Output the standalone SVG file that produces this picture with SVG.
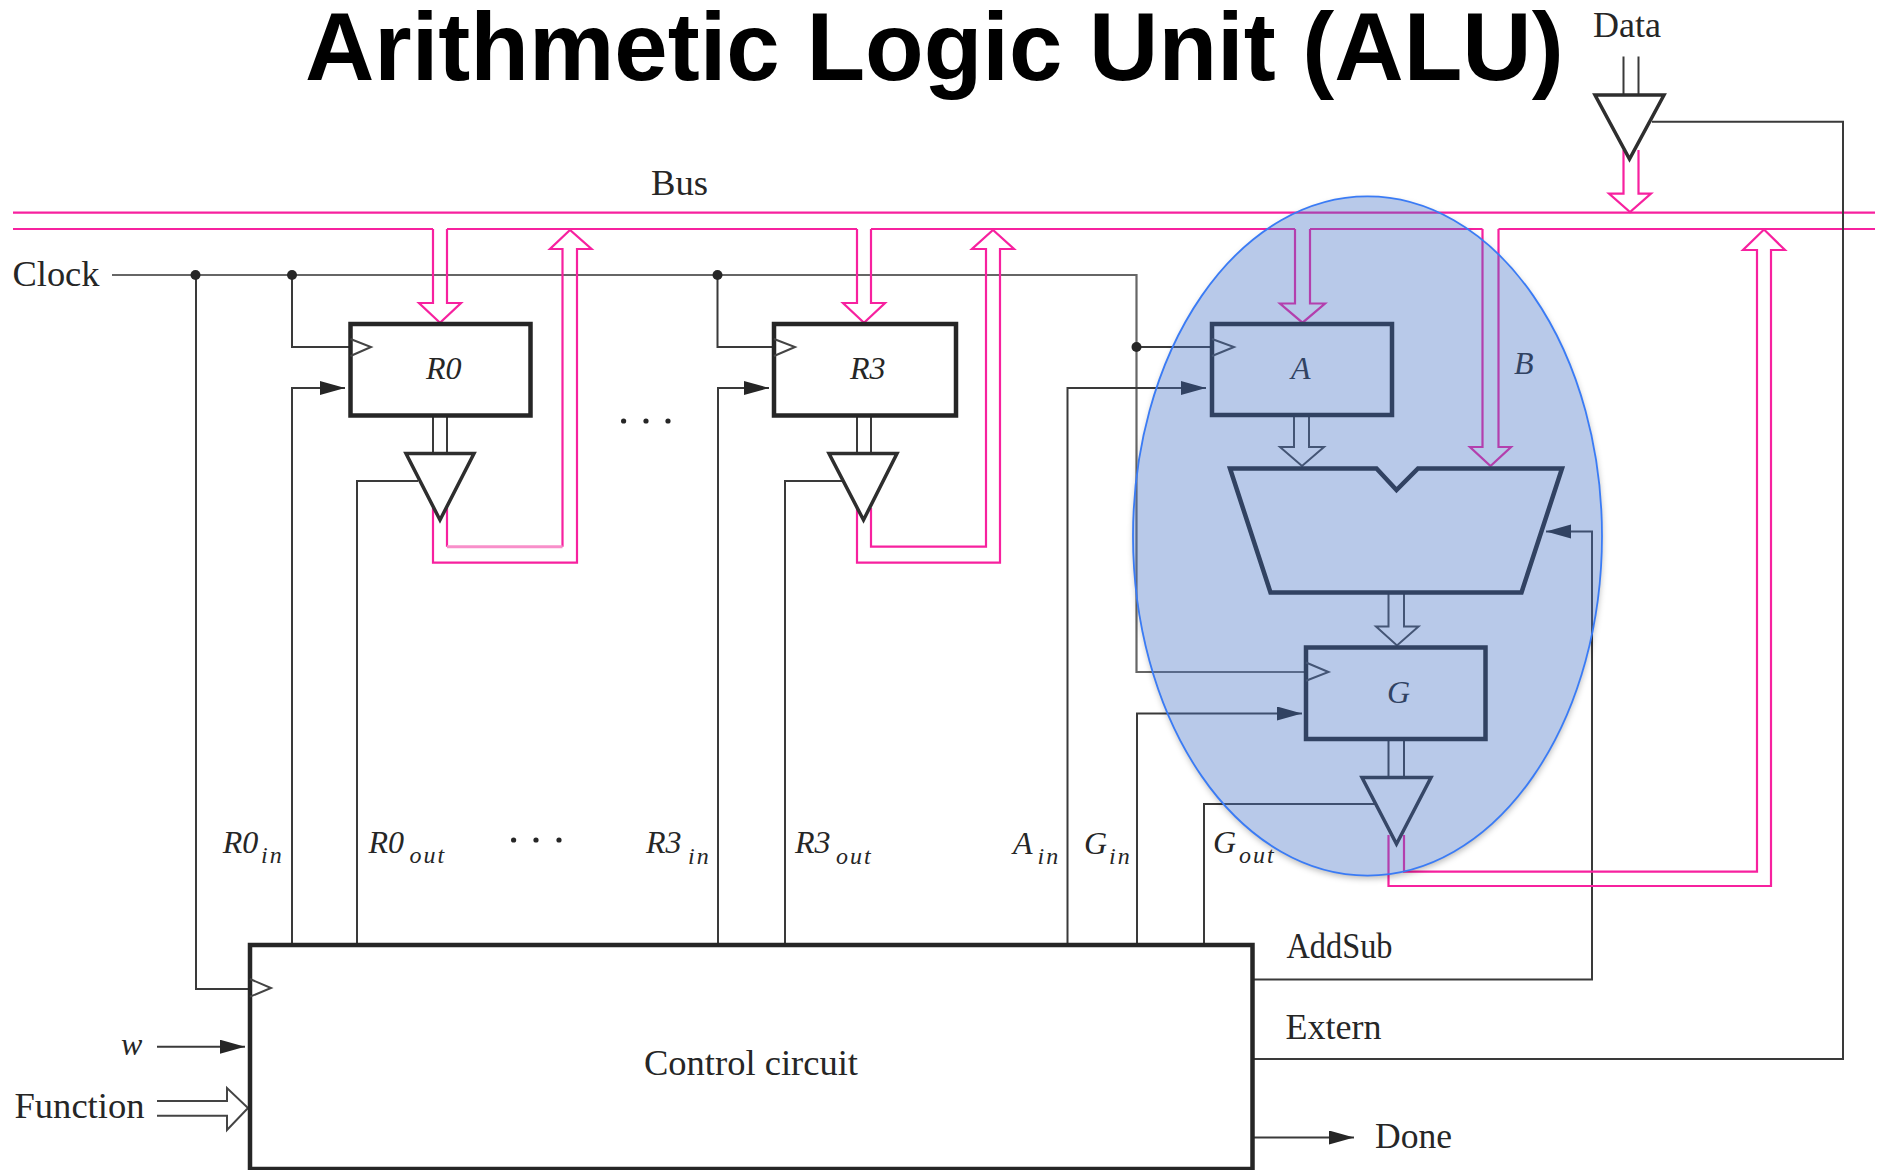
<svg xmlns="http://www.w3.org/2000/svg" width="1883" height="1170" viewBox="0 0 1883 1170">
<style>
.w{fill:none;stroke:#3a3a3a;stroke-width:2}
.c{fill:none;stroke:#666;stroke-width:2.2}
.p{fill:none;stroke:#f7219f;stroke-width:2.2}
.pl{fill:none;stroke:#f88fca;stroke-width:3}
.h{fill:none;stroke:#444;stroke-width:2}
.box{fill:none;stroke:#262626;stroke-width:4.5}
.tri{fill:none;stroke:#2e2e2e;stroke-width:3.5;stroke-linejoin:miter}
.ck{fill:none;stroke:#444;stroke-width:2}
text{font-family:"Liberation Serif","Times New Roman",serif;fill:#262626}
.n{font-size:35px}
.i{font-size:32px;font-style:italic}
.s{font-size:24px;font-style:italic;letter-spacing:2px}
</style>
<defs>
<marker id="ah" markerUnits="userSpaceOnUse" markerWidth="26" markerHeight="16" refX="25" refY="7" orient="auto"><path d="M0 0L25 7L0 14Z" fill="#262626"/></marker>
<filter id="bl" x="-5%" y="-5%" width="110%" height="110%"><feGaussianBlur stdDeviation="3"/></filter>
<mask id="outside" maskUnits="userSpaceOnUse" x="0" y="0" width="1883" height="1170"><rect width="1883" height="1170" fill="#fff"/><ellipse cx="1368" cy="536" rx="234.5" ry="339.6" fill="#000"/></mask>
</defs>
<rect width="1883" height="1170" fill="#fff"/>
<text id="title" x="305" y="80" style="font-family:'Liberation Sans',Arial,sans-serif;font-weight:700;font-size:96px;fill:#000">Arithmetic Logic Unit (ALU)</text>
<g id="connectors">
<path class="p" d="M13 212.7H1875M13 229H433M447 229H857M871 229H1295M1310 229H1482.5M1498.5 229H1875"/>
<path class="c" d="M112 275H1136.5V672H1306"/>
<path class="w" d="M196 275V989H250M292 275V347H350M717.5 275V347H774M1136.5 347H1212"/>
<path class="w" marker-end="url(#ah)" d="M292 944V388H345"/>
<path class="w" marker-end="url(#ah)" d="M718 944V388H769"/>
<path class="w" marker-end="url(#ah)" d="M1067.5 944V388H1206"/>
<path class="w" marker-end="url(#ah)" d="M1137 944V713.5H1302"/>
<path class="w" marker-end="url(#ah)" d="M1252 979.6H1592V531.6H1546"/>
<path class="w" d="M357 944V481H418M785 944V481H842M1204 944V804H1375M1252 1059H1843V121.7H1652"/>
<path class="w" marker-end="url(#ah)" d="M157 1046.7H245"/>
<path class="w" marker-end="url(#ah)" d="M1254 1137.5H1354"/>
<path class="h" d="M157 1101H227V1088L248 1108L227 1130V1115.7H157"/>
<path class="w" d="M433 416V453.5M447 416V453.5M857 416V453.5M871 416V453.5M1623.5 56.5V95M1638.5 56.5V95M1388.5 739V777.5M1404 739V777.5"/>
<path class="h" d="M1294 415V447H1280L1302 466L1324 447H1309V415M1388.5 592V626.5H1376L1397 645.5L1418.5 626.5H1404V592"/>
<path class="p" d="M433 229V303H419L440 322.7L461 303H447V229"/>
<path class="p" d="M857 229V303H843L864 322.7L885 303H871V229"/>
<path class="p" d="M1295 229V303.5H1280L1302.5 322.7L1325 303.5H1310V229"/>
<path class="p" d="M1482.5 229V447H1470L1490.5 466L1511 447H1498.5V229"/>
<path class="p" d="M1623.5 150V193.7H1609L1630 212L1651 193.7H1638.5V150"/>
<path class="p" d="M433 508V562.7H577V249H591.5L570 230L550 249H562.5V546.7M447 546.7V508"/>
<path class="pl" d="M562.5 546.7H447"/>
<path class="p" d="M857 508V562.7H1000V249H1014L993 230L972 249H986V546.7H871V508"/>
<path class="p" d="M1388.5 835V886H1771V250H1785L1764 229.5L1743 250H1757V871.6H1404V835"/>
<g fill="#262626"><circle cx="195.5" cy="275" r="5"/><circle cx="292" cy="275" r="5"/><circle cx="717.5" cy="275" r="5"/><circle cx="1136.5" cy="347" r="5"/></g>
</g>
<g id="node-R0"><rect class="box" x="350.5" y="324" width="180" height="91.5"/><path class="ck" d="M350.5 339L371 347L350.5 356"/><text class="i" x="426" y="379">R0</text></g>
<g id="node-R3"><rect class="box" x="774" y="324" width="182" height="91.5"/><path class="ck" d="M774 339L795 347L774 356"/><text class="i" x="850" y="379">R3</text></g>
<g id="node-A"><rect class="box" x="1212" y="324" width="180" height="91"/><path class="ck" d="M1212 339L1234 347L1212 356"/><text class="i" x="1291" y="379">A</text></g>
<g id="node-G"><rect class="box" x="1306" y="647.5" width="179.5" height="91.5"/><path class="ck" d="M1306 662.5L1328.5 672L1306 680.7"/><text class="i" x="1387" y="703">G</text></g>
<g id="node-ALU"><path class="box" d="M1230 468.5H1376.5L1396.5 490L1418 468.5H1562L1521.5 592.5H1270.5Z"/></g>
<g id="tristate-R0"><path class="tri" d="M406 453.5H474L440 520Z"/></g>
<g id="tristate-R3"><path class="tri" d="M829 453.5H897L863.5 520Z"/></g>
<g id="tristate-G"><path class="tri" d="M1362 777.5H1431L1396.5 844Z"/></g>
<g id="tristate-Data"><path class="tri" d="M1595 95H1664L1629.5 159Z"/></g>
<g id="node-control"><rect class="box" x="250" y="945" width="1002.5" height="224"/><path class="ck" d="M250 979L271 988L250 996.7"/><text class="n" x="644" y="1075" textLength="214" lengthAdjust="spacingAndGlyphs">Control circuit</text></g>
<g id="labels">
<text class="n" x="651" y="195" textLength="57" lengthAdjust="spacingAndGlyphs">Bus</text>
<text class="n" x="12.5" y="286" textLength="87" lengthAdjust="spacingAndGlyphs">Clock</text>
<text class="n" x="1593" y="37" textLength="68" lengthAdjust="spacingAndGlyphs">Data</text>
<text class="n" x="14.5" y="1118" textLength="130" lengthAdjust="spacingAndGlyphs">Function</text>
<text class="n" x="1286.5" y="958" textLength="106" lengthAdjust="spacingAndGlyphs">AddSub</text>
<text class="n" x="1285.5" y="1039" textLength="96" lengthAdjust="spacingAndGlyphs">Extern</text>
<text class="n" x="1375" y="1148" textLength="77" lengthAdjust="spacingAndGlyphs">Done</text>
<text class="i" x="121" y="1055">w</text>
<text class="i" x="1514" y="374">B</text>
<text class="i" x="222.7" y="853">R0</text><text class="s" x="261" y="863">in</text>
<text class="i" x="368.5" y="853">R0</text><text class="s" x="409.5" y="863">out</text>
<text class="i" x="646" y="853">R3</text><text class="s" x="688" y="864">in</text>
<text class="i" x="795" y="853">R3</text><text class="s" x="836" y="864">out</text>
<text class="i" x="1013" y="854">A</text><text class="s" x="1037.5" y="864">in</text>
<text class="i" x="1084" y="854">G</text><text class="s" x="1109" y="864">in</text>
<text class="i" x="1213" y="853">G</text><text class="s" x="1239" y="863">out</text>
<g fill="#262626"><circle cx="623.6" cy="421" r="2.6"/><circle cx="646" cy="421" r="2.6"/><circle cx="668" cy="421" r="2.6"/><circle cx="513.6" cy="840" r="2.6"/><circle cx="536" cy="840" r="2.6"/><circle cx="559" cy="840" r="2.6"/></g>
</g>
<g id="highlight">
<g mask="url(#outside)"><ellipse cx="1368" cy="539" rx="234.5" ry="339.6" fill="#000" fill-opacity=".28" filter="url(#bl)"/></g>
<ellipse cx="1367.5" cy="536" rx="234.5" ry="339.6" fill="#4472c4" fill-opacity=".38" stroke="#3a7bf5" stroke-width="1.8"/>
</g>
</svg>
